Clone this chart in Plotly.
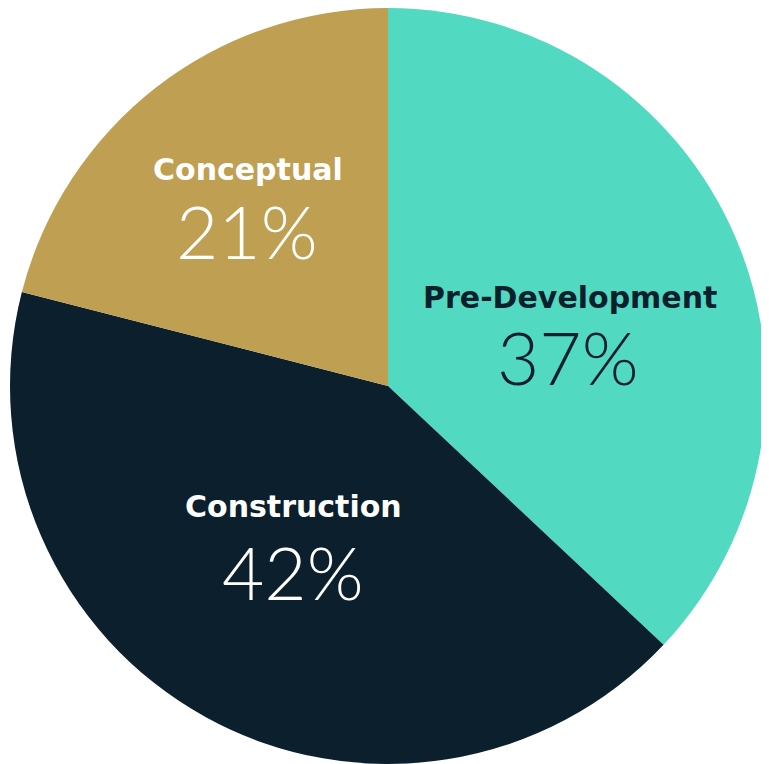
import plotly.graph_objects as go

categories = ["Pre-Development", "Construction", "Conceptual"]
values = [37, 42, 21]
colors = ["#52D9C1", "#0B1F2C", "#BFA052"]
text_colors = ["#0B1F2C", "#FFFFFF", "#FFFFFF"]
# label centre positions on the page in pixels (name x, name y, percent x, percent y)
label_px = [(570, 297, 568, 357), (293, 507, 293, 572), (248, 169, 247, 231)]

W, H = 769, 764
BODY = 8          # default page margin of the html body
L, T, S = 2, 0, 756

fig = go.Figure(go.Pie(
    labels=categories, values=values, sort=False, direction="clockwise",
    rotation=0, marker=dict(colors=colors, line=dict(width=0)),
    textinfo="none", hoverinfo="label+percent", showlegend=False,
))

def px2paper(x, y):
    fx, fy = x - BODY, y - BODY
    return (fx - L) / S, 1 - (fy - T) / S

for cat, v, tc, (nx, ny, vx, vy) in zip(categories, values, text_colors, label_px):
    x, y = px2paper(nx, ny)
    fig.add_annotation(x=x, y=y, xref="paper", yref="paper", text=cat, showarrow=False,
                       xanchor="center", yanchor="middle",
                       font=dict(family="DejaVu Sans", size=30, color=tc, weight=700))
    x, y = px2paper(vx, vy)
    fig.add_annotation(x=x, y=y, xref="paper", yref="paper", text=f"{v}%", showarrow=False,
                       xanchor="center", yanchor="middle",
                       font=dict(family="Lato", size=73, color=tc, weight=300))

fig.update_layout(width=W, height=H, margin=dict(l=L, r=W - L - S, t=T, b=H - T - S),
                  paper_bgcolor="white", plot_bgcolor="white")
fig.write_html("out.html")
